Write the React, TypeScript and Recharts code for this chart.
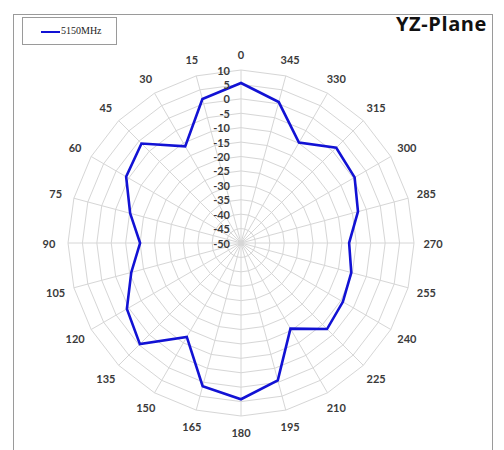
import { RadarChart, Radar, PolarGrid, PolarAngleAxis, PolarRadiusAxis } from 'recharts'

const angles = ['0', '15', '30', '45', '60', '75', '90', '105', '120', '135', '150', '165', '180', '195', '210', '225', '240', '255', '270', '285', '300', '315', '330', '345']
const gain5150 = [5.5, 1.7, -11.3, -1.2, -4, -10.2, -15, -10.6, -4.3, -0.4, -12.4, 1.4, 4.2, -0.7, -15.7, -7.8, -9.2, -10.4, -12.5, -8, -4.5, -3.3, -9.8, 0.6]
const radialTicks = [-50, -45, -40, -35, -30, -25, -20, -15, -10, -5, 0, 5, 10]

// angles grow counter-clockwise, recharts draws clockwise -> keep 0 first, reverse the rest
const rows = angles.map((a, i) => ({ angle: a, gain: gain5150[i] }))
const data = [rows[0], ...rows.slice(1).reverse()]

const CX = 241
const CY = 243
const LABEL_FONT = 'Lato, "Open Sans", sans-serif'

function AngleTick(props: any) {
  const { x, y, payload } = props
  const dx = x - CX
  const dy = y - CY
  const len = Math.hypot(dx, dy) || 1
  const ux = dx / len
  const uy = dy / len
  const extra = Math.abs(ux) * 3
  return (
    <text
      x={x + ux * extra}
      y={y + uy * extra}
      textAnchor="middle"
      dominantBaseline="central"
      fontFamily={LABEL_FONT}
      fontSize={11}
      fontWeight={700}
      fill="#3a3a3a"
    >
      {payload.value}
    </text>
  )
}

function RadiusTick(props: any) {
  const { x, y, payload } = props
  return (
    <text
      x={x - 11}
      y={y}
      textAnchor="end"
      dominantBaseline="central"
      fontFamily={LABEL_FONT}
      fontSize={11}
      fontWeight={700}
      fill="#3a3a3a"
    >
      {payload.value}
    </text>
  )
}

export default function App() {
  return (
    <div style={{ position: 'relative', width: 504, height: 450, background: '#fff', overflow: 'hidden' }}>
      <style>{'body{margin:0}'}</style>
      {/* outer frame */}
      <div
        style={{
          position: 'absolute',
          left: 13,
          top: 14,
          width: 478,
          height: 450,
          borderLeft: '1px solid #9a9a9a',
          borderRight: '1px solid #9a9a9a',
          borderTop: '1px solid #9a9a9a'
        }}
      />
      <RadarChart
        width={504}
        height={450}
        data={data}
        cx={CX}
        cy={CY}
        outerRadius={173}
        margin={{ top: 0, right: 0, bottom: 0, left: 0 }}
        style={{ position: 'absolute', left: 0, top: 0 }}
      >
        <PolarGrid gridType="polygon" stroke="#d6d6d6" strokeWidth={1} />
        <PolarAngleAxis
          dataKey="angle"
          tick={<AngleTick />}
          tickLine={false}
          axisLine={false}
          tickSize={16}
        />
        <PolarRadiusAxis
          type="number"
          angle={90}
          domain={[-50, 10]}
          ticks={radialTicks as any}
          tickCount={13}
          axisLine={false}
          tickLine={false}
          tick={<RadiusTick />}
        />
        <Radar
          dataKey="gain"
          stroke="#1212d4"
          strokeWidth={2.6}
          fill="none"
          fillOpacity={0}
          dot={false}
          isAnimationActive={false}
        />
      </RadarChart>
      {/* legend */}
      <div
        style={{
          position: 'absolute',
          left: 22,
          top: 17,
          width: 95,
          height: 28,
          border: '1px solid #9a9a9a',
          boxSizing: 'border-box',
          background: '#fff'
        }}
      >
        <div style={{ position: 'absolute', left: 18, top: 13, width: 19, height: 2, background: '#1212d4' }} />
        <span
          style={{
            position: 'absolute',
            left: 38,
            top: 7,
            fontFamily: '"Liberation Serif", serif',
            fontSize: 10,
            lineHeight: '12px',
            color: '#222'
          }}
        >
          5150MHz
        </span>
      </div>
      {/* title */}
      <div
        style={{
          position: 'absolute',
          right: 17,
          top: 12,
          fontFamily: '"Open Sans", sans-serif',
          fontWeight: 700,
          fontSize: 20,
          letterSpacing: 0.6,
          lineHeight: '24px',
          color: '#111'
        }}
      >
        YZ-Plane
      </div>
    </div>
  )
}
